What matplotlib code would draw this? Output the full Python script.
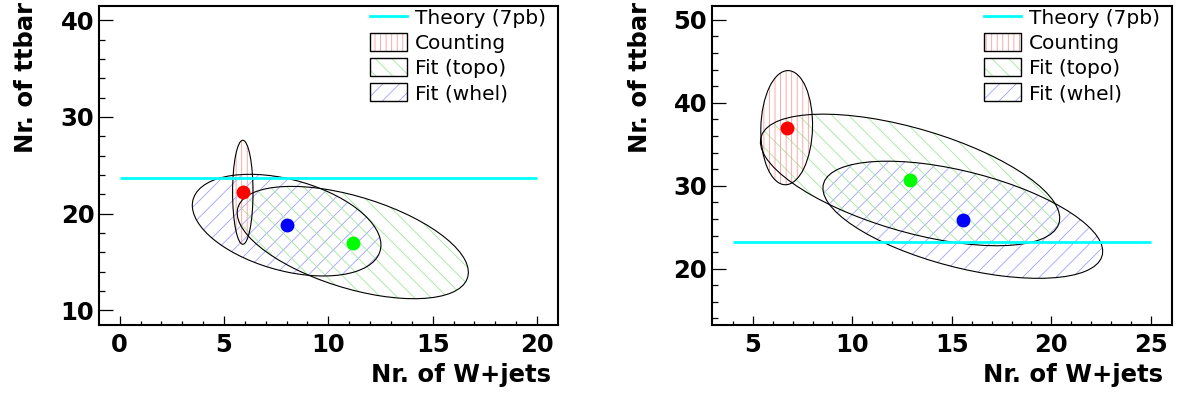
import numpy as np
import matplotlib
matplotlib.use("Agg")
import matplotlib.pyplot as plt
from matplotlib.patches import Ellipse, Patch
from matplotlib.lines import Line2D
from matplotlib.ticker import FixedLocator

plt.rcParams['font.family'] = ['DejaVu Sans']
plt.rcParams['hatch.linewidth'] = 0.6

# ---- measurement methods -------------------------------------------------
methods = ["Counting", "Fit (topo)", "Fit (whel)"]
point_colors = ["#ff0000", "#00ff00", "#0000ff"]
hatch_colors = ["#ff9a9a", "#9eea9e", "#a0a0ff"]
hatch_styles = ["|||", "\\\\", "//"]
theory_label = "Theory (7pb)"
theory_color = "#00ffff"

# ---- left panel: fitted yields and 1-sigma ellipse parameters -----------
wjets_left = [5.9, 11.17, 8.0]
ttbar_left = [22.2, 17.0, 18.8]
sigma_w_left = [0.49, 5.54, 4.52]
sigma_t_left = [5.38, 5.81, 5.26]
rho_left = [0.0, -0.53, -0.39]
theory_left = 23.7
xaxis_left = (0, 20)
xmajor_left = [0, 5, 10, 15, 20]
ymajor_left = [10, 20, 30, 40]
yminor_left = list(range(10, 41, 2))

# ---- right panel --------------------------------------------------------
wjets_right = [6.7, 12.9, 15.55]
ttbar_right = [37.0, 30.7, 25.9]
sigma_w_right = [1.3, 7.52, 7.03]
sigma_t_right = [6.88, 7.93, 7.06]
rho_right = [0.05, -0.58, -0.54]
theory_right = 23.2
xaxis_right = (4, 25)
xmajor_right = [5, 10, 15, 20, 25]
ymajor_right = [20, 30, 40, 50]
yminor_right = list(range(14, 51, 2))

xlabel = "Nr. of W+jets"
ylabel = "Nr. of ttbar"

FS_TICK = 17.5
FS_LABEL = 17.5
FS_LEG = 14.5


def cov_ellipse(cx, cy, sx, sy, rho, **kw):
    cov = np.array([[sx * sx, rho * sx * sy], [rho * sx * sy, sy * sy]])
    vals, vecs = np.linalg.eigh(cov)
    width = 2 * np.sqrt(vals[1])
    height = 2 * np.sqrt(vals[0])
    angle = np.degrees(np.arctan2(vecs[1, 1], vecs[0, 1]))
    return Ellipse((cx, cy), width, height, angle=angle, **kw)


def draw_panel(ax, wj, tt, sw, st, rho, theory, xaxis, xmajor,
               ymajor, yminor, xlim, ylim):
    # hatched contours, drawn back to front: whel, topo, counting
    for i in (2, 1, 0):
        ax.add_patch(cov_ellipse(wj[i], tt[i], sw[i], st[i], rho[i],
                                 facecolor="none", edgecolor=hatch_colors[i],
                                 hatch=hatch_styles[i], linewidth=0, zorder=2))
        ax.add_patch(cov_ellipse(wj[i], tt[i], sw[i], st[i], rho[i],
                                 facecolor="none", edgecolor="black",
                                 linewidth=0.8, zorder=3))
    ax.plot(list(xaxis), [theory, theory], color=theory_color, lw=2.0,
            zorder=4, solid_capstyle="butt")
    for i in range(3):
        ax.plot(wj[i], tt[i], "o", color=point_colors[i], markersize=10,
                markeredgewidth=0, zorder=5)

    ax.set_xlim(*xlim)
    ax.set_ylim(*ylim)
    ax.xaxis.set_major_locator(FixedLocator(xmajor))
    ax.xaxis.set_minor_locator(FixedLocator(list(range(xaxis[0], xaxis[1] + 1))))
    ax.yaxis.set_major_locator(FixedLocator(ymajor))
    ax.yaxis.set_minor_locator(FixedLocator(yminor))
    ax.tick_params(axis="both", which="both", direction="in",
                   top=False, right=False, width=0.9, labelsize=FS_TICK)
    ax.tick_params(axis="y", which="major", length=10, pad=3.6)
    ax.tick_params(axis="y", which="minor", length=4.6)
    ax.tick_params(axis="x", which="major", length=6.7, pad=6.3)
    ax.tick_params(axis="x", which="minor", length=3.1)
    for lab in ax.get_xticklabels() + ax.get_yticklabels():
        lab.set_fontweight("bold")
    for sp in ax.spines.values():
        sp.set_linewidth(1.5)

    ax.set_xlabel(xlabel, fontsize=FS_LABEL, fontweight="bold",
                  ha="right", va="baseline")
    ax.set_ylabel(ylabel, fontsize=FS_LABEL, fontweight="bold",
                  ha="right", va="baseline", rotation=90,
                  rotation_mode="anchor")

    handles = [Line2D([], [], color=theory_color, lw=2.0)]
    for i in range(3):
        handles.append((Patch(facecolor="none", edgecolor=hatch_colors[i],
                              hatch=hatch_styles[i], linewidth=0),
                        Patch(facecolor="none", edgecolor="black",
                              linewidth=1.0)))
    ax.legend(handles, [theory_label] + methods, loc="upper right",
              bbox_to_anchor=(0.9745, 0.992), frameon=False,
              fontsize=FS_LEG, borderpad=0, borderaxespad=0,
              handlelength=1.84, handleheight=0.95, handletextpad=0.4,
              labelspacing=0.27)


fig = plt.figure(figsize=(11.83, 3.97), dpi=100)
ax1 = fig.add_axes([0.0839, 0.1821, 0.3875, 0.8035])
ax2 = fig.add_axes([0.6019, 0.1821, 0.3886, 0.8035])

draw_panel(ax1, wjets_left, ttbar_left, sigma_w_left, sigma_t_left, rho_left,
           theory_left, xaxis_left, xmajor_left, ymajor_left, yminor_left,
           (-0.98, 20.99), (8.5, 41.5))
draw_panel(ax2, wjets_right, ttbar_right, sigma_w_right, sigma_t_right,
           rho_right, theory_right, xaxis_right, xmajor_right, ymajor_right,
           yminor_right, (2.95, 26.05), (13.25, 51.7))

ax1.xaxis.set_label_coords(0.9854, -0.1787)
ax2.xaxis.set_label_coords(0.9817, -0.1787)
ax1.yaxis.set_label_coords(-0.1435, 1.0116)
ax2.yaxis.set_label_coords(-0.1414, 1.0116)

fig.savefig("out.png", dpi=100)
